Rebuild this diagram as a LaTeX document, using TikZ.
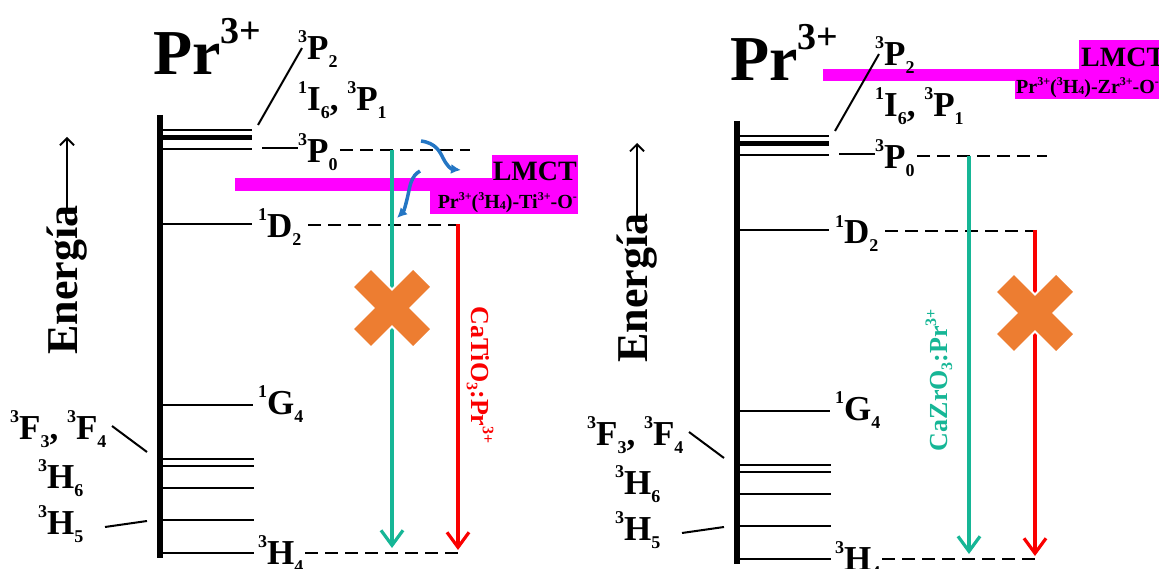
\documentclass[tikz,border=0pt]{standalone}
\usepackage{fontspec}
\setmainfont{Liberation Serif}
\usetikzlibrary{arrows.meta}
\definecolor{tealc}{RGB}{22,182,150}
\definecolor{redc}{RGB}{250,0,0}
\definecolor{orngc}{RGB}{237,125,49}
\definecolor{bluc}{RGB}{36,118,196}
\definecolor{magc}{RGB}{255,0,255}
\newcommand{\up}[3]{\raisebox{#3}{\fontsize{#1}{#1}\selectfont #2}}
\newcommand{\lv}[3]{\up{18}{#1}{17pt}#2\up{18}{#3}{-8pt}}
\tikzset{
  lvl/.style={line width=2pt},
  dsh/.style={line width=1.8pt, dash pattern=on 13pt off 7pt},
  lab/.style={font=\fontsize{35}{35}\selectfont\bfseries, inner sep=0pt, anchor=base west},
  emis/.style={line width=3.2pt, -{Straight Barb[length=15pt,width=22pt]}},
  blarrow/.style={bluc, line width=3.5pt, -{Latex[length=10pt,width=10pt]}},
  magbox/.style={fill=magc, draw=none},
  enlab/.style={rotate=90, inner sep=0pt, anchor=west, font=\fontsize{44}{44}\selectfont\bfseries},
  enarrow/.style={line width=1.8pt, -{Straight Barb[length=7pt,width=14pt,line width=1.8pt]}},
}
\newcommand{\panel}[1]{%
  \node[anchor=base west, inner sep=0pt, font=\fontsize{64}{64}\selectfont\bfseries] (#1Pr) at (153,75) {Pr\up{38}{3+}{31pt}};
  \draw[line width=6pt] (160,115) coordinate (#1bt) -- (160,558) coordinate (#1bb);
  \draw[line width=2pt] (163,130) -- (252,130);
  \draw[line width=4.5pt] (163,137.5) -- (252,137.5);
  \draw[line width=2pt] (163,149) -- (252,149);
  \draw[lvl] (163,224) -- (252,224);
  \draw[lvl] (163,405) -- (253,405);
  \foreach \yy in {459,466,488,520,553} {\draw[lvl] (163,\yy) -- (254,\yy);}
  \draw[lvl] (262,148) -- (298,148);
  \draw[lvl] (258,125) -- (302,48);
  \draw[lvl] (112,426) -- (147,452);
  \draw[lvl] (105,527) -- (147,521);
  \node[lab] (#1P2) at (298,60) {\lv{3}{P}{2}};
  \node[lab] (#1I6) at (298,111) {\lv{1}{I}{6}, \lv{3}{P}{1}};
  \node[lab] (#1P0) at (298,163) {\lv{3}{P}{0}};
  \node[lab] (#1D2) at (258,238) {\lv{1}{D}{2}};
  \node[lab] (#1G4) at (258,414) {\lv{1}{G}{4}};
  \node[lab] (#1H4) at (258,564) {\lv{3}{H}{4}};
  \node[lab] (#1F) at (10,439) {\lv{3}{F}{3}, \lv{3}{F}{4}};
  \node[lab] (#1H6) at (38,488) {\lv{3}{H}{6}};
  \node[lab] (#1H5) at (38,534) {\lv{3}{H}{5}};
  \coordinate (#1a) at (340,150); \coordinate (#1b) at (470,150);
  \coordinate (#1c) at (308,225); \coordinate (#1d) at (458,225);
  \coordinate (#1e) at (305,553); \coordinate (#1f) at (460,553);
  \draw[dsh] (#1a) -- (#1b);
  \draw[dsh] (#1c) -- (#1d);
  \draw[dsh] (#1e) -- (#1f);
  \coordinate (#1ts) at (392,150); \coordinate (#1te) at (392,548);
  \coordinate (#1rs) at (458,224); \coordinate (#1re) at (458,550);
  \draw[emis, tealc] (#1ts) -- (#1te);
  \draw[emis, redc] (#1rs) -- (#1re);
}
\newcommand{\bigx}{%
  \draw[white, line width=28pt] (-29.5,-29.5) -- (29.5,29.5) (29.5,-29.5) -- (-29.5,29.5);
  \draw[orngc, line width=24pt] (-29.5,-29.5) -- (29.5,29.5) (29.5,-29.5) -- (-29.5,29.5);
}
\begin{document}
\begin{tikzpicture}[x=1pt, y=-1pt]
\useasboundingbox (0,0) rectangle (1159,569);
\clip (0,0) rectangle (1159,569);
% magenta LMCT (left)
\fill[magbox] (492,155) rectangle (578,178);
\fill[magbox] (235,178) rectangle (578,191);
\fill[magbox] (430,191) rectangle (578,214);
\node[anchor=base east, inner sep=0pt, font=\fontsize{28}{28}\selectfont\bfseries] (lmctL) at (577,181) {LMCT};
\node[anchor=base east, inner sep=0pt, font=\fontsize{20}{20}\selectfont\bfseries] (formL) at (577,209) {Pr\up{12}{3+}{8pt}(\up{12}{3}{8pt}H\up{12}{4}{-1pt})-Ti\up{12}{3+}{8pt}-O\up{12}{-}{8pt}};
% magenta LMCT (right)
\fill[magbox] (1079,40) rectangle (1165,69);
\fill[magbox] (823,69) rectangle (1165,81);
\fill[magbox] (1015,81) rectangle (1165,99);
\node[anchor=base west, inner sep=0pt, font=\fontsize{28}{28}\selectfont\bfseries] (lmctR) at (1081,67) {LMCT};
\node[anchor=base west, inner sep=0pt, font=\fontsize{20}{20}\selectfont\bfseries] (formR) at (1016,94) {Pr\up{12}{3+}{8pt}(\up{12}{3}{8pt}H\up{12}{4}{-1pt})-Zr\up{12}{3+}{8pt}-O\up{12}{-}{8pt}};
% panels
\panel{L}
\begin{scope}[shift={(577,6)}]
\panel{R}
\end{scope}
% energy axis labels
\node[enlab] (enL) at (67,355) {Energía};
\draw[enarrow] ([yshift=-3pt]enL.east) -- (67,137);
\node[enlab] (enR) at (637,363) {Energía};
\draw[enarrow] ([yshift=-3pt]enR.east) -- (637,143);
% blue transfer arrows
\draw[blarrow] (421,141) .. controls (436,143) and (440,152) .. (443,158) .. controls (447,166) and (451,169) .. (461,170);
\draw[blarrow] (420,171) .. controls (411,176) and (410,186) .. (408,195) .. controls (406,204) and (404,211) .. (397,218);
% crosses
\begin{scope}[shift={(392,308)}]\bigx\end{scope}
\begin{scope}[shift={(1035,313)}]\bigx\end{scope}
% sample labels
\node[rotate=-90, text=redc, inner sep=0pt, font=\fontsize{26}{26}\selectfont\bfseries] (labL) at (480,375) {CaTiO\up{16}{3}{-5pt}:Pr\up{16}{3+}{11pt}};
\node[rotate=90, text=tealc, inner sep=0pt, font=\fontsize{26}{26}\selectfont\bfseries] (labR) at (939,380) {CaZrO\up{16}{3}{-5pt}:Pr\up{16}{3+}{11pt}};
\end{tikzpicture}
\end{document}
